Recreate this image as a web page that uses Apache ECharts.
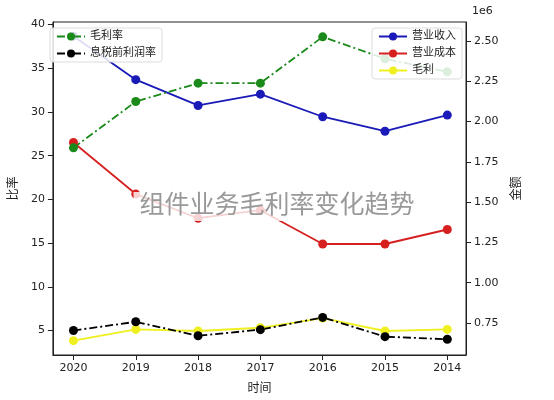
<!DOCTYPE html>
<html><head><meta charset="utf-8">
<script src="https://cdn.jsdelivr.net/npm/echarts@6/dist/echarts.min.js"></script>
<style>html,body{margin:0;background:#fff}#c{width:554px;height:400px}</style>
</head><body><div id="c"></div>
<script>
const years = ['2020', '2019', '2018', '2017', '2016', '2015', '2014'];
// left axis, percent
const grossMargin = [25.9, 31.2, 33.3, 33.3, 38.6, 36.1, 34.6];
const ebitMargin = [5.0, 6.0, 4.4, 5.1, 6.5, 4.3, 4.0];
// right axis, 1e6
const revenue = [2.53, 2.26, 2.10, 2.17, 2.03, 1.94, 2.04];
const cost = [1.87, 1.55, 1.40, 1.45, 1.24, 1.24, 1.33];
const grossProfit = [0.64, 0.71, 0.70, 0.72, 0.78, 0.70, 0.71];
const leftTicks = [5, 10, 15, 20, 25, 30, 35, 40];
const rightTicks = [0.75, 1.0, 1.25, 1.5, 1.75, 2.0, 2.25, 2.5];

const pts = arr => arr.map((v, i) => [i, v]);
const font = 'DejaVu Sans, Noto Sans CJK SC';
const chart = echarts.init(document.getElementById('c'));

const line = (name, data, color, axis, dash) => ({
  name, type: 'line', yAxisIndex: axis, data: pts(data),
  symbol: 'circle', symbolSize: 9,
  itemStyle: { color },
  lineStyle: { color, width: 1.8, type: dash ? [8, 3, 2, 3] : 'solid' }
});

chart.setOption({
  animation: false,
  textStyle: { fontFamily: font },
  grid: { left: 45, right: 88, top: 22, bottom: 45, show: true, borderColor: '#222', borderWidth: 1 },
  graphic: [{
    type: 'text', left: 'center', top: 192, z: 100,
    style: { text: '组件业务毛利率变化趋势', fontSize: 25, fill: '#999', fontFamily: font,
      backgroundColor: 'rgba(255,255,255,0.8)', padding: [2, 6] }
  }, {
    type: 'text', left: 472, top: 6, style: { text: '1e6', fontSize: 11, fill: '#222', fontFamily: font }
  }],
  legend: [{
    data: ['毛利率', '息税前利润率'], orient: 'vertical', left: 50, top: 28,
    itemWidth: 28, itemHeight: 10, itemGap: 6, textStyle: { fontSize: 11, color: '#222' },
    backgroundColor: 'rgba(255,255,255,0.85)', borderColor: '#ddd', borderWidth: 1, borderRadius: 3, padding: [3, 6]
  }, {
    data: ['营业收入', '营业成本', '毛利'], orient: 'vertical', right: 92, top: 28,
    itemWidth: 28, itemHeight: 10, itemGap: 6, textStyle: { fontSize: 11, color: '#222' },
    backgroundColor: 'rgba(255,255,255,0.85)', borderColor: '#ddd', borderWidth: 1, borderRadius: 3, padding: [3, 6]
  }],
  xAxis: {
    type: 'value', min: -0.33, max: 6.3,
    name: '时间', nameLocation: 'middle', nameGap: 28, nameTextStyle: { fontSize: 12, color: '#222' },
    axisLine: { show: true, onZero: false, lineStyle: { color: '#222' } },
    axisTick: { show: true, customValues: [0, 1, 2, 3, 4, 5, 6], lineStyle: { color: '#222' } },
    axisLabel: { customValues: [0, 1, 2, 3, 4, 5, 6], formatter: v => years[Math.round(v)], color: '#222', fontSize: 11 },
    splitLine: { show: false }
  },
  yAxis: [{
    type: 'value', min: 2.2, max: 40.3, position: 'left',
    name: '比率', nameLocation: 'middle', nameGap: 30, nameTextStyle: { fontSize: 12, color: '#222' },
    axisLine: { show: true, onZero: false, lineStyle: { color: '#222' } },
    axisTick: { show: true, customValues: leftTicks, lineStyle: { color: '#222' } },
    axisLabel: { customValues: leftTicks, color: '#222', fontSize: 11 },
    splitLine: { show: false }
  }, {
    type: 'value', min: 0.551, max: 2.618, position: 'right',
    name: '金额', nameLocation: 'middle', nameGap: 45, nameTextStyle: { fontSize: 12, color: '#222' },
    axisLine: { show: true, onZero: false, lineStyle: { color: '#222' } },
    axisTick: { show: true, customValues: rightTicks, lineStyle: { color: '#222' } },
    axisLabel: { customValues: rightTicks, formatter: v => v.toFixed(2), color: '#222', fontSize: 11 },
    splitLine: { show: false }
  }],
  series: [
    line('营业收入', revenue, '#1a1ab8', 1, false),
    line('营业成本', cost, '#d62020', 1, false),
    line('毛利', grossProfit, '#f0f020', 1, false),
    line('毛利率', grossMargin, '#1a8a1a', 0, true),
    line('息税前利润率', ebitMargin, '#000000', 0, true)
  ]
});
</script></body></html>
